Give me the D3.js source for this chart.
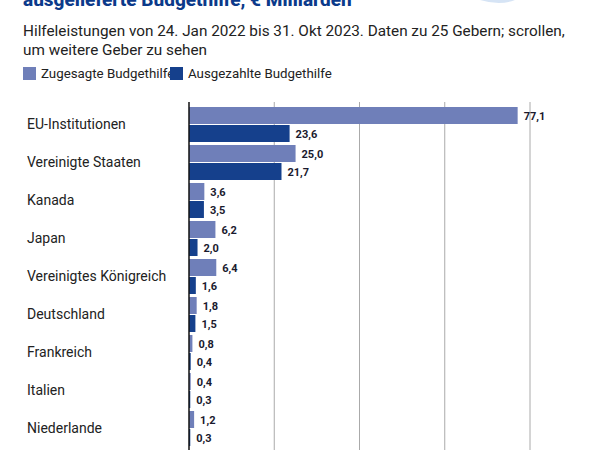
<!DOCTYPE html>
<html><head><meta charset="utf-8">
<script src="https://cdn.jsdelivr.net/npm/d3@7"></script>
<style>body{margin:0;background:#fff;font-family:Roboto,sans-serif}</style>
</head><body><div id="chart"></div>
<script>
const donors = ["EU-Institutionen","Vereinigte Staaten","Kanada","Japan","Vereinigtes Königreich","Deutschland","Frankreich","Italien","Niederlande"];
const committed = [77.1,25.0,3.6,6.2,6.4,1.8,0.8,0.4,1.2];
const disbursed = [23.6,21.7,3.5,2.0,1.6,1.5,0.4,0.3,0.3];
const gridTicks = [20,40,60,80];
const seriesNames = ["Zugesagte Budgethilfe","Ausgezahlte Budgethilfe"];
const colors = ["#6f7fb9","#15408c"];

const W = 597, H = 450;
const svg = d3.select("#chart").append("svg").attr("width", W).attr("height", H);

// title is cut at the top edge, as in the original
svg.append("text").attr("x", 23).attr("y", 6).attr("font-size", 19).attr("font-weight", 800)
  .attr("fill", "#0b3a8a").text("ausgelieferte Budgethilfe, € Milliarden");
svg.append("path").attr("d", "M480,0 Q500,6 515,0 Z").attr("fill", "#d6e4f5");

const sub = svg.append("text").attr("font-size", 15.3).attr("fill", "#222");
sub.append("tspan").attr("x", 23).attr("y", 36).text("Hilfeleistungen von 24. Jan 2022 bis 31. Okt 2023. Daten zu 25 Gebern; scrollen,");
sub.append("tspan").attr("x", 23).attr("y", 55).text("um weitere Geber zu sehen");

const leg = svg.append("g").attr("transform", "translate(23,67)");
seriesNames.forEach((n, i) => {
  const g = leg.append("g").attr("transform", `translate(${i * 147},0)`);
  g.append("rect").attr("width", 13).attr("height", 13).attr("fill", colors[i]);
  g.append("text").attr("x", 18).attr("y", 11).attr("font-size", 13.3).attr("fill", "#222").text(n);
});

const x = d3.scaleLinear().domain([0, 80]).range([189, 530]);
const y = d3.scaleBand().domain(donors).range([106, 448]).paddingInner(0);
const bh = 17;

svg.append("g").selectAll("line").data(gridTicks).join("line")
  .attr("x1", d => x(d)).attr("x2", d => x(d)).attr("y1", 102).attr("y2", H)
  .attr("stroke", "#aaa").attr("stroke-width", 1);

const row = svg.append("g").selectAll("g").data(donors).join("g")
  .attr("transform", d => `translate(0,${y(d)})`);

row.append("text").attr("x", 27).attr("y", bh + 6).attr("font-size", 14).attr("fill", "#222").text(d => d);

[committed, disbursed].forEach((vals, s) => {
  row.append("rect").attr("x", x(0)).attr("y", s * (bh + 1) + 1)
    .attr("width", (d, i) => x(vals[i]) - x(0)).attr("height", bh).attr("fill", colors[s]);
  row.append("text").attr("x", (d, i) => x(vals[i]) + 6).attr("y", s * (bh + 1) + 14)
    .attr("font-size", 11).attr("font-weight", 700).attr("fill", "#1a1a2e")
    .text((d, i) => vals[i].toFixed(1).replace(".", ","));
});

svg.append("line").attr("x1", x(0)).attr("x2", x(0)).attr("y1", 102).attr("y2", H)
  .attr("stroke", "#111").attr("stroke-width", 1.5);
</script></body></html>
